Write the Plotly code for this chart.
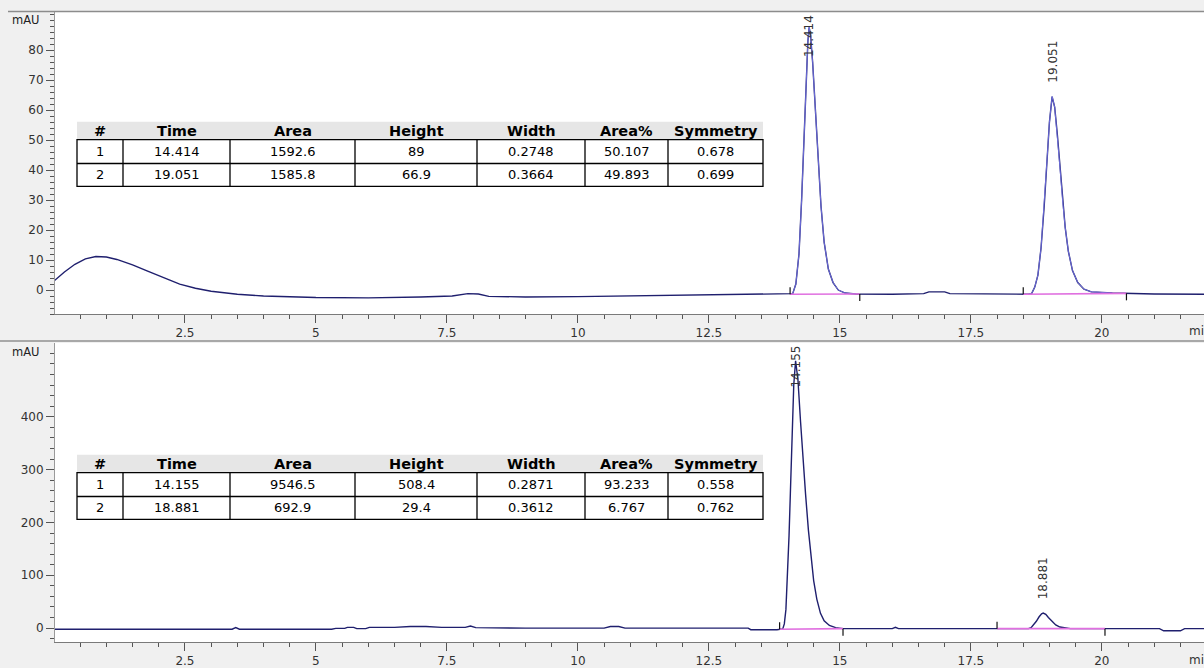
import numpy as np
import plotly.graph_objects as go

# ---------------- data ----------------
top_time = [0.0, 0.2, 0.4, 0.6, 0.8, 1.0, 1.2, 1.5, 1.8, 2.1, 2.4, 2.7, 3.0, 3.5, 4.0, 5.0, 6.0, 7.0,
            7.6, 7.9, 8.1, 8.3, 9.0, 10.0, 11.0, 12.0, 13.0, 13.9, 14.05, 14.10, 14.16, 14.22, 14.27,
            14.31, 14.35, 14.39, 14.414, 14.44, 14.48, 14.53, 14.58, 14.64, 14.70, 14.78, 14.87, 14.97,
            15.1, 15.3, 16.0, 16.6, 16.7, 17.0, 17.1, 18.0, 18.6, 18.66, 18.72, 18.78, 18.84, 18.90,
            18.96, 19.00, 19.051, 19.10, 19.15, 19.20, 19.25, 19.30, 19.36, 19.44, 19.54, 19.66, 19.80,
            20.2, 21.0, 21.95]
top_signal = [3.0, 6.0, 8.6, 10.4, 11.2, 11.0, 10.2, 8.4, 6.2, 4.0, 2.0, 0.6, -0.4, -1.4, -2.0, -2.5, -2.6, -2.3,
              -2.0, -1.2, -1.3, -2.1, -2.3, -2.2, -2.0, -1.8, -1.6, -1.4, -1.4, -1.2, 2.0, 12.0, 30.0,
              48.0, 68.0, 83.0, 87.6, 85.0, 76.0, 60.0, 44.0, 28.0, 16.0, 7.0, 2.5, 0.0,
              -1.0, -1.3, -1.4, -1.2, -0.6, -0.6, -1.2, -1.4, -1.4, -1.2, 1.0, 5.0, 14.0, 28.0,
              45.0, 56.0, 64.5, 61.0, 52.0, 41.0, 30.0, 21.0, 13.0, 6.5, 2.5, 0.3, -0.6,
              -1.0, -1.3, -1.4]

bot_time = [0.0, 3.40, 3.47, 3.54, 5.30, 5.38, 5.55, 5.60, 5.72, 5.78, 5.95, 6.02, 6.50, 6.80, 7.10, 7.40,
            7.85, 7.95, 8.05, 9.00, 10.50, 10.62, 10.78, 10.90, 12.00, 13.25, 13.30, 13.80, 13.91, 13.94,
            13.97, 14.00, 14.03, 14.055, 14.09, 14.12, 14.155, 14.20, 14.25, 14.30, 14.345, 14.40, 14.45,
            14.50, 14.56, 14.63, 14.70, 14.80, 14.92, 15.06, 16.00, 16.06, 16.12, 18.00, 18.60, 18.65,
            18.70, 18.75, 18.80, 18.85, 18.881, 18.93, 18.98, 19.05, 19.12, 19.20, 19.30, 19.40, 21.10,
            21.18, 21.50, 21.58, 21.95]
bot_signal = [-2, -2, 1, -2, -2, -0.5, -0.5, 1.5, 1.5, -1, -1, 1.5, 1.5, 3, 3, 1.5,
              1.5, 4, 1, 0, 0, 3, 3, 0, 0, 0, -3, -3, -1.5, 8,
              35, 100, 175, 254, 370, 460, 506, 470, 390, 310, 254, 185, 130,
              90, 55, 28, 14, 5, 1, -1, -1, 1.5, -1, -1, -1, 1,
              6, 13, 21, 27, 28.4, 26, 20, 12, 6, 2, 0, -1, -1,
              -5, -5, -1, -1]

table_header = ["#", "Time", "Area", "Height", "Width", "Area%", "Symmetry"]

top_peak_no = [1, 2]
top_peak_time = [14.414, 19.051]
top_peak_area = [1592.6, 1585.8]
top_peak_height = [89, 66.9]
top_peak_width = [0.2748, 0.3664]
top_peak_areapct = [50.107, 49.893]
top_peak_symmetry = [0.678, 0.699]

bot_peak_no = [1, 2]
bot_peak_time = [14.155, 18.881]
bot_peak_area = [9546.5, 692.9]
bot_peak_height = [508.4, 29.4]
bot_peak_width = [0.2871, 0.3612]
bot_peak_areapct = [93.233, 6.767]
bot_peak_symmetry = [0.558, 0.762]

# integration baselines
top_base_start = [14.05, 18.50]
top_base_end = [15.38, 20.47]
top_base_start_level = [-1.4, -1.4]
top_base_end_level = [-1.3, -1.1]
bot_base_start = [13.85, 18.00]
bot_base_end = [15.06, 20.06]
bot_base_start_level = [-2.0, -1.0]
bot_base_end_level = [-1.0, -1.0]

x_tick_values = [2.5, 5, 7.5, 10, 12.5, 15, 17.5, 20]
top_y_ticks = [0, 10, 20, 30, 40, 50, 60, 70, 80]
bot_y_ticks = [0, 100, 200, 300, 400]

# ---------------- layout geometry ----------------
W, H = 1204, 668
X_LEFT = 55
TOP_PLOT = (12, 315)     # top, bottom pixel rows
BOT_PLOT = (344, 644)
TOP_RANGE = [-8.0, 92.7]
BOT_RANGE = [-26.4, 539.6]
X_RANGE = [0.02, 21.95]
COL_EDGES = [77, 123, 230, 355, 477, 585, 668, 763]
ROW_EDGES = [0, 18, 42, 65]   # header, row 1, row 2 (relative px)


def ydom(px_top, px_bot):
    return [1 - px_bot / H, 1 - px_top / H]


def px2x(px):
    return px / W


def px2y(px):
    return 1 - px / H


NAVY = "#1f1f6e"
PINK = "#e070e0"
LAV = "rgba(120,120,235,0.95)"
FONT = "DejaVu Sans"

fig = go.Figure()


def panel(t, s, bstart, bend, blev0, blev1, xa, ya, plot_px, yrange, overlay):
    t = np.array(t, dtype=float)
    s = np.array(s, dtype=float)
    fig.add_trace(go.Scatter(x=t, y=s, mode="lines", line=dict(color=NAVY, width=1.4),
                             xaxis=xa, yaxis=ya, showlegend=False, hoverinfo="skip"))
    if overlay:
        ox, oy = [], []
        for a, b in zip(bstart, bend):
            m = (t >= a) & (t <= b)
            ox += list(t[m]) + [None]
            oy += list(s[m]) + [None]
        fig.add_trace(go.Scatter(x=ox, y=oy, mode="lines", line=dict(color=LAV, width=0.9),
                                 xaxis=xa, yaxis=ya, showlegend=False, hoverinfo="skip"))
    bx, by = [], []
    for a, b, l0, l1 in zip(bstart, bend, blev0, blev1):
        bx += [a, b, None]
        by += [l0, l1, None]
    fig.add_trace(go.Scatter(x=bx, y=by, mode="lines", line=dict(color=PINK, width=1.6),
                             xaxis=xa, yaxis=ya, showlegend=False, hoverinfo="skip"))
    ppu = (plot_px[1] - plot_px[0]) / (yrange[1] - yrange[0])
    L = 7 / ppu
    tx, ty = [], []
    for a, b, l0, l1 in zip(bstart, bend, blev0, blev1):
        tx += [a, a, None, b, b, None]
        ty += [l0, l0 + L, None, l1, l1 - L, None]
    fig.add_trace(go.Scatter(x=tx, y=ty, mode="lines", line=dict(color="#111111", width=1.2),
                             xaxis=xa, yaxis=ya, showlegend=False, hoverinfo="skip"))
    return t, s, ppu


def peak_labels(t, s, ptimes, xa, ya, plot_px, yrange, ppu):
    label_len = 44
    for pt in ptimes:
        apex = float(np.interp(pt, t, s))
        apex_px = plot_px[1] - (apex - yrange[0]) * ppu
        if apex_px - 12 - label_len < plot_px[0]:
            fig.add_annotation(x=pt, y=yrange[1], xref=xa, yref=ya, text=f"{pt:.3f}",
                               textangle=-90, showarrow=False, xanchor="center", yanchor="top",
                               yshift=-1, font=dict(family=FONT, size=12, color="#333333"))
        else:
            fig.add_annotation(x=pt, y=apex, xref=xa, yref=ya, text=f"{pt:.3f}",
                               textangle=-90, showarrow=False, xanchor="center", yanchor="bottom",
                               yshift=12, font=dict(family=FONT, size=12, color="#333333"))


t1, s1, ppu1 = panel(top_time, top_signal, top_base_start, top_base_end, top_base_start_level,
                     top_base_end_level, "x", "y", TOP_PLOT, TOP_RANGE, True)
t2, s2, ppu2 = panel(bot_time, bot_signal, bot_base_start, bot_base_end, bot_base_start_level,
                     bot_base_end_level, "x2", "y2", BOT_PLOT, BOT_RANGE, False)
peak_labels(t1, s1, top_peak_time, "x", "y", TOP_PLOT, TOP_RANGE, ppu1)
peak_labels(t2, s2, bot_peak_time, "x2", "y2", BOT_PLOT, BOT_RANGE, ppu2)


def table(no, tm, ar, hg, wd, ap, sy, top_px):
    cols = [[str(v) for v in no], [f"{v:.3f}" for v in tm], [f"{v:.1f}" for v in ar],
            [f"{v:g}" for v in hg], [f"{v:.4f}" for v in wd], [f"{v:.3f}" for v in ap],
            [f"{v:.3f}" for v in sy]]
    r = [top_px + e for e in ROW_EDGES]
    x0, x1 = COL_EDGES[0], COL_EDGES[-1]
    fig.add_shape(type="rect", xref="paper", yref="paper", x0=px2x(x0), x1=px2x(x1),
                  y0=px2y(r[1]), y1=px2y(r[0]), fillcolor="#e6e6e6", line=dict(width=0), layer="above")
    fig.add_shape(type="rect", xref="paper", yref="paper", x0=px2x(x0), x1=px2x(x1),
                  y0=px2y(r[3]), y1=px2y(r[1]), fillcolor="#ffffff",
                  line=dict(color="#000000", width=1.3), layer="above")
    fig.add_shape(type="line", xref="paper", yref="paper", x0=px2x(x0), x1=px2x(x1),
                  y0=px2y(r[2]), y1=px2y(r[2]), line=dict(color="#000000", width=1.3), layer="above")
    for ce in COL_EDGES[1:-1]:
        fig.add_shape(type="line", xref="paper", yref="paper", x0=px2x(ce), x1=px2x(ce),
                      y0=px2y(r[3]), y1=px2y(r[1]), line=dict(color="#000000", width=1.3), layer="above")
    for j, h in enumerate(table_header):
        cx = (COL_EDGES[j] + COL_EDGES[j + 1]) / 2
        fig.add_annotation(x=px2x(cx), y=px2y((r[0] + r[1]) / 2), xref="paper", yref="paper",
                           text=f"<b>{h}</b>", showarrow=False, xanchor="center", yanchor="middle",
                           font=dict(family=FONT, size=14.5, color="#000000"))
        for i in range(2):
            fig.add_annotation(x=px2x(cx), y=px2y((r[i + 1] + r[i + 2]) / 2), xref="paper", yref="paper",
                               text=cols[j][i], showarrow=False, xanchor="center", yanchor="middle",
                               font=dict(family=FONT, size=13, color="#000000"))


table(top_peak_no, top_peak_time, top_peak_area, top_peak_height, top_peak_width,
      top_peak_areapct, top_peak_symmetry, 122)
table(bot_peak_no, bot_peak_time, bot_peak_area, bot_peak_height, bot_peak_width,
      bot_peak_areapct, bot_peak_symmetry, 456)

tickfont = dict(family=FONT, size=12, color="#333333")
xcommon = dict(range=X_RANGE, domain=[X_LEFT / W, 1], tickmode="array", tickvals=x_tick_values,
               ticktext=[f"{v:g}" for v in x_tick_values],
               ticks="outside", ticklen=8, tickcolor="#555555", tickwidth=1,
               minor=dict(tickmode="linear", tick0=0, dtick=0.5, ticks="outside", ticklen=4,
                          tickcolor="#555555", showgrid=False),
               showline=True, linecolor="#7a7a7a", linewidth=1, showgrid=False, zeroline=False,
               tickfont=tickfont, fixedrange=True)
fig.update_layout(
    width=W, height=H, autosize=False,
    margin=dict(l=0, r=0, t=0, b=0, pad=0),
    paper_bgcolor="#f0f0f0", plot_bgcolor="#ffffff",
    xaxis=dict(anchor="y", **xcommon),
    xaxis2=dict(anchor="y2", **xcommon),
    yaxis=dict(domain=ydom(*TOP_PLOT), range=TOP_RANGE, anchor="x", tickmode="array",
               tickvals=top_y_ticks, ticks="outside", ticklen=8, tickcolor="#555555",
               minor=dict(tickmode="linear", tick0=0, dtick=2, ticks="outside", ticklen=4,
                          tickcolor="#555555", showgrid=False),
               showline=True, linecolor="#9a9a9a", showgrid=False, zeroline=False,
               tickfont=tickfont, fixedrange=True),
    yaxis2=dict(domain=ydom(*BOT_PLOT), range=BOT_RANGE, anchor="x2", tickmode="array",
                tickvals=bot_y_ticks, ticks="outside", ticklen=8, tickcolor="#555555",
                minor=dict(tickmode="linear", tick0=0, dtick=20, ticks="outside", ticklen=4,
                           tickcolor="#555555", showgrid=False),
                showline=True, linecolor="#9a9a9a", showgrid=False, zeroline=False,
                tickfont=tickfont, fixedrange=True),
    showlegend=False,
)

# frame lines
fig.add_shape(type="line", xref="paper", yref="paper", x0=8 / W, x1=1, y0=1 - 11.5 / H, y1=1 - 11.5 / H,
              line=dict(color="#8c8c8c", width=1.5))
fig.add_shape(type="line", xref="paper", yref="paper", x0=0, x1=1, y0=1 - 342 / H, y1=1 - 342 / H,
              line=dict(color="#a8a8a8", width=2))

# unit labels
for ypx in (20, 353):
    fig.add_annotation(x=26 / W, y=1 - ypx / H, xref="paper", yref="paper", text="mAU",
                       xanchor="center", yanchor="middle", showarrow=False,
                       font=dict(family=FONT, size=11.5, color="#222222"))
for ypx in (332, 662):
    fig.add_annotation(x=1187 / W, y=1 - ypx / H, xref="paper", yref="paper", text="min",
                       xanchor="left", yanchor="middle", showarrow=False,
                       font=dict(family=FONT, size=12, color="#333333"))

fig.write_html("out.html", config={"displayModeBar": False},
               post_script="document.body.style.margin='0px';")
